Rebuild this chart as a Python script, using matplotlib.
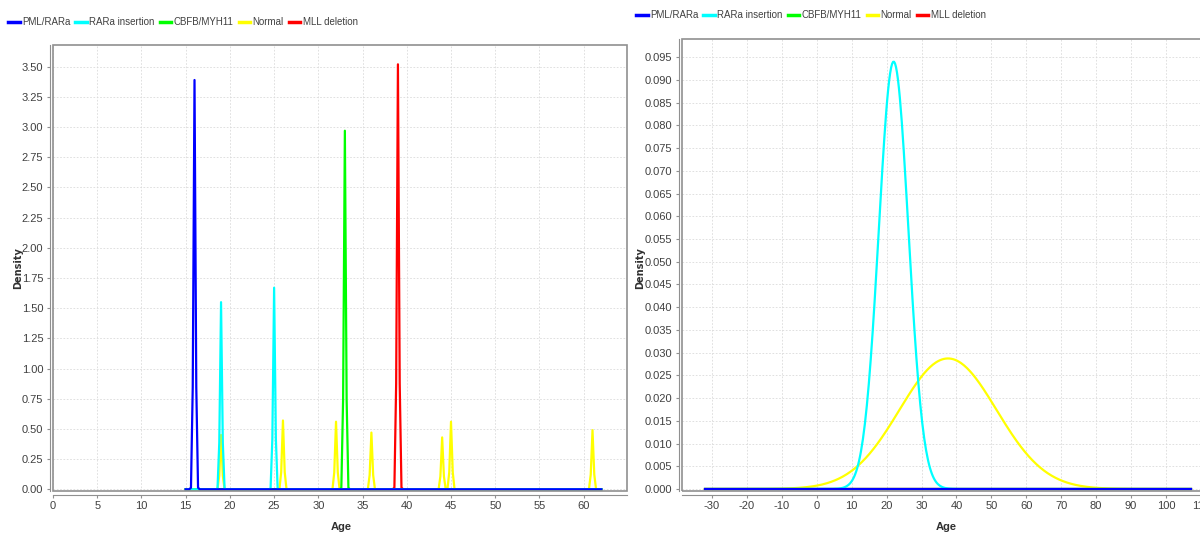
import numpy as np
import matplotlib
matplotlib.use("Agg")
import matplotlib.pyplot as plt
from matplotlib.lines import Line2D
from matplotlib.patches import Rectangle

plt.rcParams['font.family'] = ['Liberation Sans', 'DejaVu Sans']
plt.rcParams['axes.unicode_minus'] = False

groups = ["PML/RARa", "RARa insertion", "CBFB/MYH11", "Normal", "MLL deletion"]
colors = ["#0000ff", "#00ffff", "#00ff00", "#ffff00", "#ff0000"]
ages_pml = [16]
ages_rara = [19, 25]
ages_cbfb = [33]
ages_normal = [19, 26, 32, 36, 44, 45, 61]
ages_mll = [39]
# peak density of each spike in the left panel
peak_pml = [3.39]
peak_rara = [1.55, 1.67]
peak_cbfb = [2.97]
peak_normal = [0.45, 0.57, 0.56, 0.47, 0.43, 0.56, 0.49]
peak_mll = [3.52]

ages = [ages_pml, ages_rara, ages_cbfb, ages_normal, ages_mll]
peaks = [peak_pml, peak_rara, peak_cbfb, peak_normal, peak_mll]

left_yticks = np.arange(0, 3.51, 0.25)
left_xticks = np.arange(0, 61, 5)
right_yticks = np.arange(0, 0.0951, 0.005)
right_xticks = np.arange(-30, 111, 10)

W, H = 1200, 533
fig = plt.figure(figsize=(W / 100, H / 100), dpi=100)


def px_axes(x0, y0, x1, y1):
    return fig.add_axes([x0 / W, 1 - y1 / H, (x1 - x0) / W, (y1 - y0) / H])


def px_text(x, y, s, **kw):
    fig.text(x / W, 1 - y / H, s, ha='center', va='center', **kw)


def style_axes(ax):
    for s in ax.spines.values():
        s.set_visible(False)
    ax.spines['left'].set_visible(True)
    ax.spines['bottom'].set_visible(True)
    ax.spines['left'].set_position(('outward', 2.5))
    ax.spines['bottom'].set_position(('outward', 3))
    ax.spines['left'].set_color('#909090')
    ax.spines['bottom'].set_color('#909090')
    # plot border
    ax.add_patch(Rectangle((0, 0), 1, 1, transform=ax.transAxes, fill=False,
                           edgecolor='#909090', lw=1.2, clip_on=False, zorder=5))
    ax.grid(True, color='#dadada', linestyle=(0, (2, 2)), linewidth=0.6)
    ax.set_axisbelow(True)
    ax.tick_params(direction='out', length=2.5, color='#909090', labelsize=8,
                   labelcolor='#404040', pad=2)


def legend(x, y):
    handles = [Line2D([], [], color=c, lw=2.5) for c in colors]
    fig.legend(handles, groups, loc='center left', bbox_to_anchor=(x / W, 1 - y / H),
               ncol=5, frameon=False, fontsize=7, handlelength=1.2,
               handletextpad=0.25, columnspacing=0.5, borderpad=0, borderaxespad=0,
               labelcolor='#404040')


# Left panel: narrow kernel density spikes
ax1 = px_axes(53, 45, 627, 491)
style_axes(ax1)
xs = np.linspace(15, 62, 236)
bw = 0.12
for i in reversed(range(len(groups))):
    ys = np.zeros_like(xs)
    for a, p in zip(ages[i], peaks[i]):
        ys += p * np.exp(-(xs - a) ** 2 / (2 * bw ** 2))
    ax1.plot(xs, ys, color=colors[i], lw=1.6)
ax1.set_xlim(0, 64.9)
ax1.set_ylim(-0.014, 3.68)
ax1.set_xticks(left_xticks)
ax1.set_yticks(left_yticks)
ax1.set_yticklabels([f"{v:.2f}" for v in left_yticks])
px_text(18, 268, "Density", rotation=90, family='DejaVu Sans', fontweight='bold',
        fontsize=7, color='#303030')
px_text(341, 527, "Age", fontweight='bold', fontsize=8, color='#303030')
legend(8, 22)

# Right panel: normal fits (mean, sd of each group)
ax2 = px_axes(682, 39, 1210, 491)
style_axes(ax2)
means = [np.mean(a) for a in ages]
sds = [np.std(a, ddof=1) if len(a) > 1 else 0 for a in ages]
lo = min(m - 5 * s for m, s in zip(means, sds) if s > 0)
hi = max(m + 5 * s for m, s in zip(means, sds) if s > 0)
xr = np.linspace(lo, hi, 500)
for i in reversed(range(len(groups))):
    if sds[i] > 0:
        yr = np.exp(-(xr - means[i]) ** 2 / (2 * sds[i] ** 2)) / (sds[i] * np.sqrt(2 * np.pi))
    else:
        yr = np.zeros_like(xr)
    ax2.plot(xr, yr, color=colors[i], lw=1.6)
ax2.set_xlim(-38.6, 112.6)
ax2.set_ylim(-0.00044, 0.099)
ax2.set_xticks(right_xticks)
ax2.set_yticks(right_yticks)
ax2.set_yticklabels([f"{v:.3f}" for v in right_yticks])
px_text(640, 268, "Density", rotation=90, family='DejaVu Sans', fontweight='bold',
        fontsize=7, color='#303030')
px_text(946, 527, "Age", fontweight='bold', fontsize=8, color='#303030')
legend(636, 15)

fig.savefig("out.png", dpi=100)
